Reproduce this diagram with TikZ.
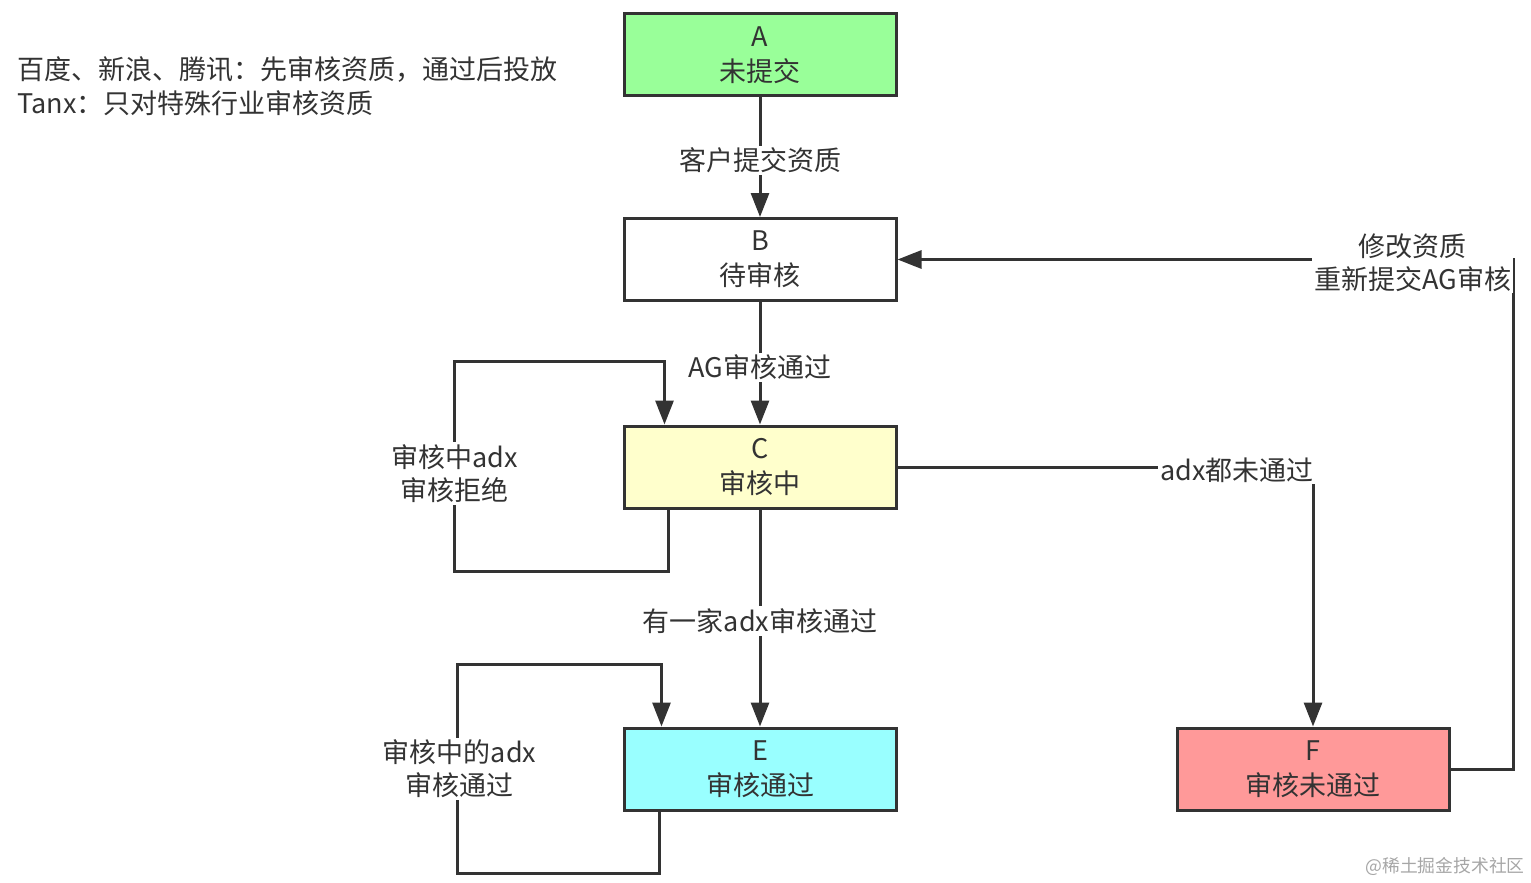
\documentclass[tikz,border=0pt]{standalone}
\usepackage{fontspec}
\setmainfont{Noto Sans CJK SC}
\usetikzlibrary{arrows.meta,positioning}

\definecolor{ink}{HTML}{333333}
\definecolor{fillA}{HTML}{99FF99}
\definecolor{fillC}{HTML}{FFFFCC}
\definecolor{fillE}{HTML}{99FFFF}
\definecolor{fillF}{HTML}{FF9999}

\tikzset{
	state/.style={draw=ink, line width=1.5pt, minimum width=136pt, minimum height=41pt,
		align=center, inner sep=0pt, text=ink, font=\fontsize{13.5}{17.5}\selectfont},
	flow/.style={draw=ink, line width=1.5pt, -{Triangle[width=9pt,length=12pt]}},
	link/.style={draw=ink, line width=1.5pt},
	lbl/.style={fill=white, align=center, inner sep=1pt, text=ink,
		font=\fontsize{13.5}{16.5}\selectfont},
}

\begin{document}
\begin{tikzpicture}[x=0.5pt,y=-0.5pt]
	\useasboundingbox (0,0) rectangle (1531,883);

	\node[anchor=west, align=left, inner sep=0pt, text=ink, font=\fontsize{13.5}{17}\selectfont]
		(note) at (17,86) {百度、新浪、腾讯：先审核资质，通过后投放\\Tanx：只对特殊行业审核资质};

	\node[state, fill=fillA] (A) at (760,55) {A\\未提交};
	\node[state, fill=white] (B) at (760,259.5) {B\\待审核};
	\node[state, fill=fillC] (C) at (760,467) {C\\审核中};
	\node[state, fill=fillE] (E) at (760,769) {E\\审核通过};
	\node[state, fill=fillF] (F) at (1313,769) {F\\审核未通过};

	% main flow
	\draw[flow] (A) -- node[lbl, yshift=-1.5pt]{客户提交资质} (B);
	\draw[flow] (B) -- node[lbl, yshift=-2pt]{AG审核通过} (C);
	\draw[flow] (C) -- node[lbl, yshift=-1.5pt]{有一家adx审核通过} (E);
	\draw[flow] (C.east) -| node[lbl, anchor=east, xshift=2pt, yshift=-1.5pt]{adx都未通过} (F.north);
	\draw[flow] (F.east) -- ++(63,0) |- node[lbl, anchor=east, xshift=0.5pt, yshift=-1.5pt]{修改资质\\重新提交AG审核} (B.east);

	% loops
	\draw[flow] ([xshift=23pt]C.south west) -- ++(0,62) -- ++(-214,0)
		-- node[lbl, yshift=-3.5pt]{审核中adx\\审核拒绝} ++(0,-210) -- ++(210,0) -- ([xshift=21pt]C.north west);
	\draw[flow] ([xshift=18.5pt]E.south west) -- ++(0,62) -- ++(-202,0)
		-- node[lbl, xshift=1pt]{审核中的adx\\审核通过} ++(0,-209) -- ++(204,0) -- ([xshift=19.5pt]E.north west);

	\node[text=black!35, inner sep=0pt, font=\fontsize{8.9}{10}\selectfont] (mark) at (1445,866) {@稀土掘金技术社区};
\end{tikzpicture}
\end{document}
